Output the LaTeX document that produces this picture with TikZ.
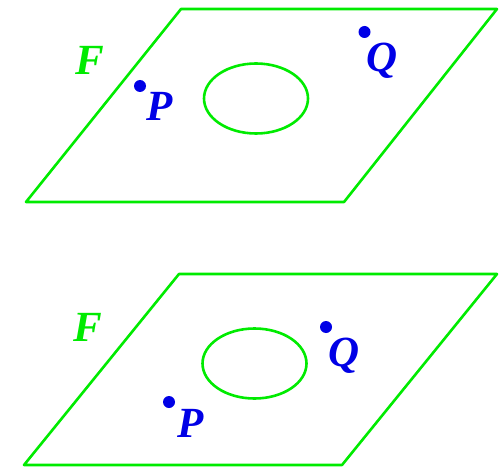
\documentclass[tikz,border=0pt]{standalone}
\usepackage{fontspec}
\setmainfont{Liberation Serif}

\definecolor{planegreen}{RGB}{0,235,0}
\definecolor{pointblue}{RGB}{0,0,230}

\begin{document}
\begin{tikzpicture}[x=1pt, y=-1pt, line width=2.6pt,
    plane/.style={draw=planegreen, line join=round},
    dot/.style={circle, fill=pointblue, inner sep=0pt, minimum size=12pt},
    lbl/.style={inner sep=0pt, anchor=base, font=\fontsize{43}{43}\selectfont\bfseries\itshape}]
    \useasboundingbox (0,0) rectangle (503,468);

    % Upper plane with its loop
    \draw[plane] (26,202) -- (344,202) -- (497,9) -- (181,9) -- cycle;
    \draw[plane] (256,98.5) ellipse (52 and 35);
    \node[lbl, text=planegreen] (F1) at (90,75) {F};
    \node[dot] (P1) at (140,86) {};
    \node[lbl, text=pointblue] (P1lbl) at (160,121) {P};
    \node[dot] (Q1) at (364.5,32) {};
    \node[lbl, text=pointblue] (Q1lbl) at (382,72) {Q};

    % Lower plane with its loop
    \draw[plane] (24,465) -- (342,465) -- (497,274) -- (179,274) -- cycle;
    \draw[plane] (254.5,363.5) ellipse (52 and 35);
    \node[lbl, text=planegreen] (F2) at (88,341) {F};
    \node[dot] (P2) at (169,402) {};
    \node[lbl, text=pointblue] (P2lbl) at (191,437) {P};
    \node[dot] (Q2) at (326,327) {};
    \node[lbl, text=pointblue] (Q2lbl) at (344,366) {Q};
\end{tikzpicture}
\end{document}
